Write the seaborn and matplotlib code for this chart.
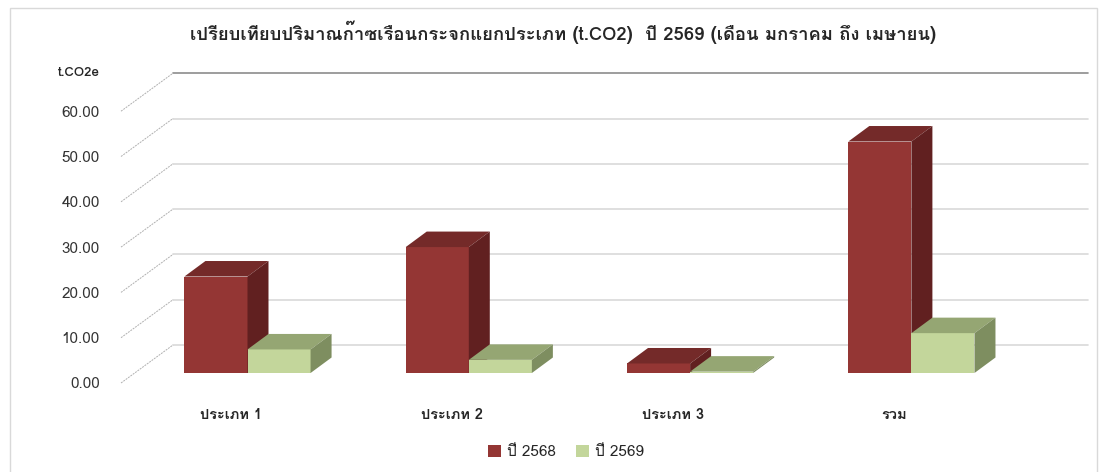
import pandas as pd
import seaborn as sns
import matplotlib.pyplot as plt
from matplotlib import font_manager, ft2font
from matplotlib.patches import Polygon, Patch, Rectangle

# data (t.CO2e)
categories = ["ประเภท 1", "ประเภท 2", "ประเภท 3", "รวม"]
years = ["ปี 2568", "ปี 2569"]
values_2568 = [21.3, 27.8, 2.1, 51.1]
values_2569 = [5.2, 2.9, 0.3, 8.8]
y_ticks = [0, 10, 20, 30, 40, 50, 60]

title = "เปรียบเทียบปริมาณก๊าซเรือนกระจกแยกประเภท (t.CO2)  ปี 2569 (เดือน มกราคม ถึง เมษายน)"
y_title = "t.CO2e"

front_colors = ["#943634", "#c3d69b"]
top_colors = ["#742a29", "#95a673"]
side_colors = ["#612020", "#7e8e60"]


def thai_family():
    # pick any installed font that has Thai glyphs
    for f in font_manager.fontManager.ttflist:
        try:
            cmap = ft2font.FT2Font(f.fname).get_charmap()
        except Exception:
            continue
        if 0x0E1B in cmap and 0x0E34 in cmap and 0x0E4A in cmap:
            return f.name
    return "DejaVu Sans"


sns.set_theme(style="white")
plt.rcParams["font.family"] = [thai_family(), "DejaVu Sans"]

# layout, in pixels of the 1104x472 picture
W, H = 1104, 472
AX_L, AX_R, AX_T, AX_B = 108, 1096, 60, 398
CAT_PX = 221.3    # pixels between category centres
CAT0_PX = 247.5   # x pixel of the first category centre
UNIT_PX = 4.53    # pixels per t.CO2e
BASE_PX = 373     # y pixel of the bar bases


def px_x(px):
    return (px - CAT0_PX) / CAT_PX


def px_y(py):
    return (BASE_PX - py) / UNIT_PX


bar_dx, bar_dy = 21 / CAT_PX, 15.5 / UNIT_PX

fig = plt.figure(figsize=(W / 100, H / 100), dpi=100)
ax = fig.add_axes([AX_L / W, 1 - AX_B / H, (AX_R - AX_L) / W, (AX_B - AX_T) / H])

df = pd.DataFrame({
    "category": categories * 2,
    "year": [years[0]] * len(categories) + [years[1]] * len(categories),
    "value": values_2568 + values_2569,
})

sns.barplot(data=df, x="category", y="value", hue="year", palette=front_colors,
            width=0.57, saturation=1, linewidth=0, legend=False, ax=ax)

# 3D look: top and side faces from each bar
for i, container in enumerate(ax.containers):
    z = 2 + i
    for bar in container:
        bar.set_zorder(z)
        x0, w, h = bar.get_x(), bar.get_width(), bar.get_height()
        top = [(x0, h), (x0 + w, h), (x0 + w + bar_dx, h + bar_dy), (x0 + bar_dx, h + bar_dy)]
        side = [(x0 + w, 0), (x0 + w + bar_dx, bar_dy), (x0 + w + bar_dx, h + bar_dy), (x0 + w, h)]
        ax.add_patch(Polygon(top, closed=True, facecolor=top_colors[i], edgecolor="none", zorder=z))
        ax.add_patch(Polygon(side, closed=True, facecolor=side_colors[i], edgecolor="none", zorder=z))

# back wall gridlines and the slanted lines from the front labels
for g in y_ticks:
    yb = px_y(345 - UNIT_PX * g)
    yf = px_y(383 - UNIT_PX * g)
    col = "#8c8c8c" if g == y_ticks[-1] else "#d9d9d9"
    ax.plot([px_x(173), px_x(1088)], [yb, yb], color=col, lw=1.2, zorder=0.5, clip_on=False)
    ax.plot([px_x(121), px_x(173)], [yf, yb], color="#b0b0b0", lw=0.7, ls=(0, (2, 1)),
            zorder=0.5, clip_on=False)

ax.set_xlim(px_x(AX_L), px_x(AX_R))
ax.set_ylim(px_y(AX_B), px_y(AX_T))
ax.set_yticks([px_y(383 - UNIT_PX * g) for g in y_ticks], [f"{g:.2f}" for g in y_ticks])
ax.set_xticks([i - 17 / CAT_PX for i in range(len(categories))], categories)
ax.tick_params(axis="y", length=0, pad=6, labelsize=11, labelcolor="#333333")
ax.tick_params(axis="x", length=0, pad=7, labelsize=10.5)
for lab in ax.get_xticklabels():
    lab.set_fontweight("bold")
ax.set_xlabel("")
ax.set_ylabel("")
for s in ax.spines.values():
    s.set_visible(False)
ax.patch.set_alpha(0)

fig.text(100 / W, 1 - 73 / H, y_title, ha="right", va="center", fontsize=9.5, fontweight="bold")
fig.text(563.5 / W, 1 - 32 / H, title, ha="center", va="center", fontsize=13.3, fontweight="bold")

handles = [Patch(facecolor=c, edgecolor="none") for c in front_colors]
fig.legend(handles, years, loc="center", bbox_to_anchor=(566 / W, 1 - 452 / H), ncol=2,
           frameon=False, fontsize=11, handlelength=0.85, handleheight=0.85,
           handletextpad=0.4, columnspacing=1.3)

fig.patches.append(Rectangle((10 / W, -0.01), (1097 - 10) / W, 1 - 8 / H + 0.01,
                             transform=fig.transFigure, fill=False, edgecolor="#d9d9d9", lw=1))

fig.savefig("out.png", dpi=100)
